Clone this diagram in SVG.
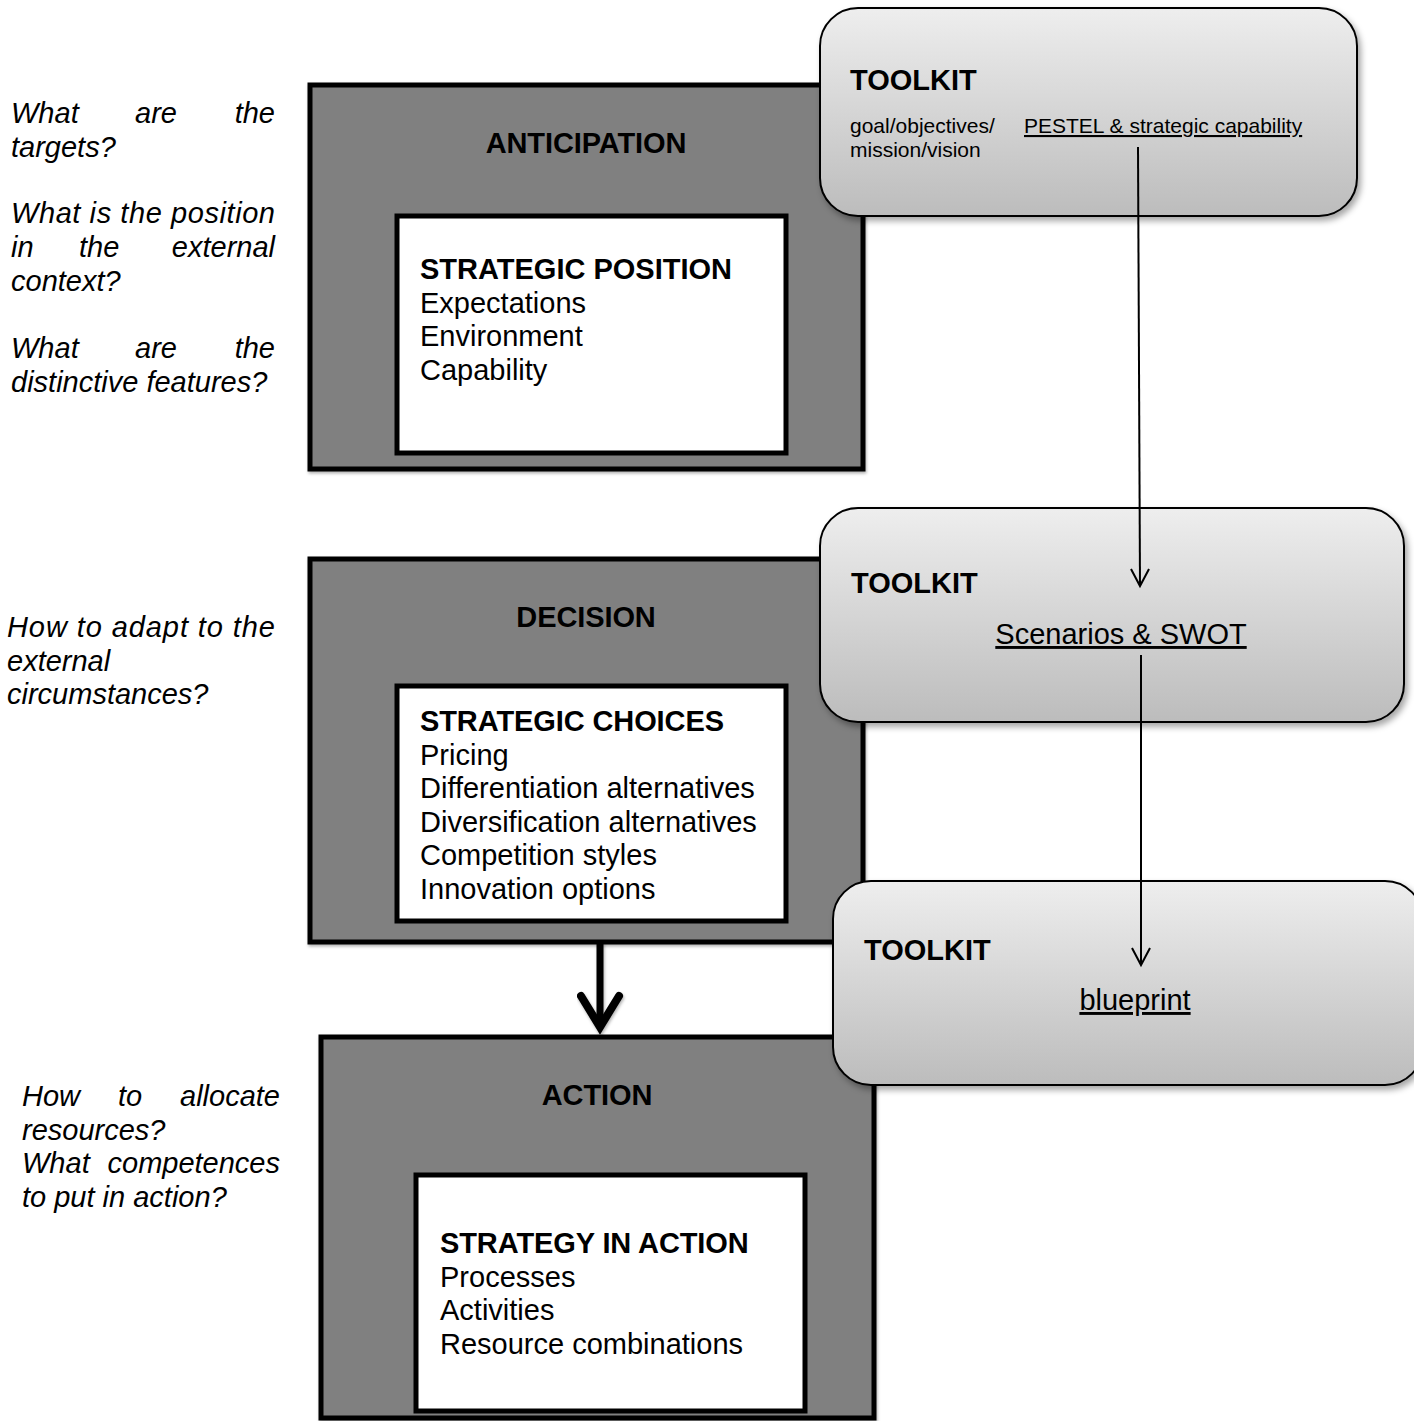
<svg xmlns="http://www.w3.org/2000/svg" width="1414" height="1421" viewBox="0 0 1414 1421">
<defs>
<linearGradient id="tkGrad" x1="0" y1="0" x2="0" y2="1">
<stop offset="0" stop-color="#eeeeee"/>
<stop offset="1" stop-color="#bcbcbc"/>
</linearGradient>
<filter id="shadow" x="-10%" y="-10%" width="130%" height="130%">
<feDropShadow dx="3" dy="4" stdDeviation="3" flood-color="#000" flood-opacity="0.35"/>
</filter>
<filter id="shadowSm" x="-10%" y="-10%" width="130%" height="130%">
<feDropShadow dx="1" dy="2" stdDeviation="1.5" flood-color="#000" flood-opacity="0.3"/>
</filter>
</defs>
<style>
text { font-family: "Liberation Sans", Arial, sans-serif; fill: #000; }
.q { font-size: 29px; font-style: italic; }
.head { font-size: 29px; font-weight: bold; letter-spacing: -0.1px; }
.bt { font-size: 29px; font-weight: bold; }
.t { font-size: 29px; }
.s { font-size: 21px; }
.u { text-decoration: underline; }
.outer { fill: #808080; stroke: #000; stroke-width: 5; }
.inner { fill: #ffffff; stroke: #000; stroke-width: 5; }
.tk { fill: url(#tkGrad); stroke: #000; stroke-width: 2; filter: url(#shadow); }
.thin { stroke: #000; stroke-width: 2; fill: none; }
</style>
<rect width="1414" height="1421" fill="#ffffff"/>

<g id="questions-anticipation">
<text class="q" x="11" y="123">What</text>
<text class="q" x="135" y="123">are</text>
<text class="q" x="275" y="123" text-anchor="end">the</text>
<text class="q" x="11" y="157">targets?</text>
<text class="q" x="11" y="223" textLength="264" lengthAdjust="spacing">What is the position</text>
<text class="q" x="11" y="257">in</text>
<text class="q" x="79" y="257">the</text>
<text class="q" x="275" y="257" text-anchor="end">external</text>
<text class="q" x="11" y="291">context?</text>
<text class="q" x="11" y="358">What</text>
<text class="q" x="135" y="358">are</text>
<text class="q" x="275" y="358" text-anchor="end">the</text>
<text class="q" x="11" y="392">distinctive features?</text>
</g>

<g id="questions-decision">
<text class="q" x="7" y="637" textLength="268" lengthAdjust="spacing">How to adapt to the</text>
<text class="q" x="7" y="671">external</text>
<text class="q" x="7" y="704">circumstances?</text>
</g>

<g id="questions-action">
<text class="q" x="22" y="1106">How</text>
<text class="q" x="118" y="1106">to</text>
<text class="q" x="280" y="1106" text-anchor="end">allocate</text>
<text class="q" x="22" y="1140">resources?</text>
<text class="q" x="22" y="1173">What</text>
<text class="q" x="280" y="1173" text-anchor="end">competences</text>
<text class="q" x="22" y="1207">to put in action?</text>
</g>

<g id="anticipation">
<rect class="outer" x="310" y="85" width="553" height="384" filter="url(#shadowSm)"/>
<text class="head" x="586" y="153" text-anchor="middle">ANTICIPATION</text>
<rect class="inner" x="397" y="216" width="389" height="237"/>
<text class="bt" x="420" y="279">STRATEGIC POSITION</text>
<text class="t" x="420" y="312.5">Expectations</text>
<text class="t" x="420" y="346">Environment</text>
<text class="t" x="420" y="379.5">Capability</text>
</g>

<g id="decision">
<rect class="outer" x="310" y="559" width="553" height="383" filter="url(#shadowSm)"/>
<text class="head" x="586" y="627" text-anchor="middle">DECISION</text>
<rect class="inner" x="397" y="686" width="389" height="235"/>
<text class="head" x="420" y="731">STRATEGIC CHOICES</text>
<text class="t" x="420" y="764.5">Pricing</text>
<text class="t" x="420" y="798">Differentiation alternatives</text>
<text class="t" x="420" y="831.5">Diversification alternatives</text>
<text class="t" x="420" y="865">Competition styles</text>
<text class="t" x="420" y="898.5">Innovation options</text>
</g>

<g id="action">
<rect class="outer" x="321" y="1037" width="553" height="381" filter="url(#shadowSm)"/>
<text class="head" x="597" y="1105" text-anchor="middle">ACTION</text>
<rect class="inner" x="416" y="1175" width="389" height="236"/>
<text class="head" x="440" y="1253">STRATEGY IN ACTION</text>
<text class="t" x="440" y="1286.5">Processes</text>
<text class="t" x="440" y="1320">Activities</text>
<text class="t" x="440" y="1353.5">Resource combinations</text>
</g>

<g id="toolkit1">
<rect class="tk" x="820" y="8" width="537" height="208" rx="38" ry="38"/>
<text class="bt" x="850" y="90">TOOLKIT</text>
<text class="s" x="850" y="133">goal/objectives/</text>
<text class="s" x="850" y="157">mission/vision</text>
<text class="s u" x="1024" y="133">PESTEL &amp; strategic capability</text>
</g>

<g id="toolkit2">
<rect class="tk" x="820" y="508" width="584" height="214" rx="38" ry="38"/>
<text class="bt" x="851" y="593">TOOLKIT</text>
<text class="t u" x="1121" y="644" text-anchor="middle">Scenarios &amp; SWOT</text>
</g>

<g id="toolkit3">
<rect class="tk" x="833" y="881" width="590" height="204" rx="38" ry="38"/>
<text class="bt" x="864" y="960">TOOLKIT</text>
<text class="t u" x="1135" y="1010" text-anchor="middle">blueprint</text>
</g>

<g id="connectors">
<line class="thin" x1="1138" y1="147" x2="1140" y2="585"/>
<polyline class="thin" points="1131,569 1140,586 1149,569"/>
<line class="thin" x1="1141" y1="655" x2="1141" y2="965"/>
<polyline class="thin" points="1132,948 1141,965 1150,948"/>
<g filter="url(#shadowSm)">
<line x1="600" y1="942" x2="600" y2="1024" stroke="#000" stroke-width="7"/>
<polyline points="581,996 600,1027 619,996" fill="none" stroke="#000" stroke-width="8" stroke-linecap="round" stroke-linejoin="miter"/>
</g>
</g>
</svg>
